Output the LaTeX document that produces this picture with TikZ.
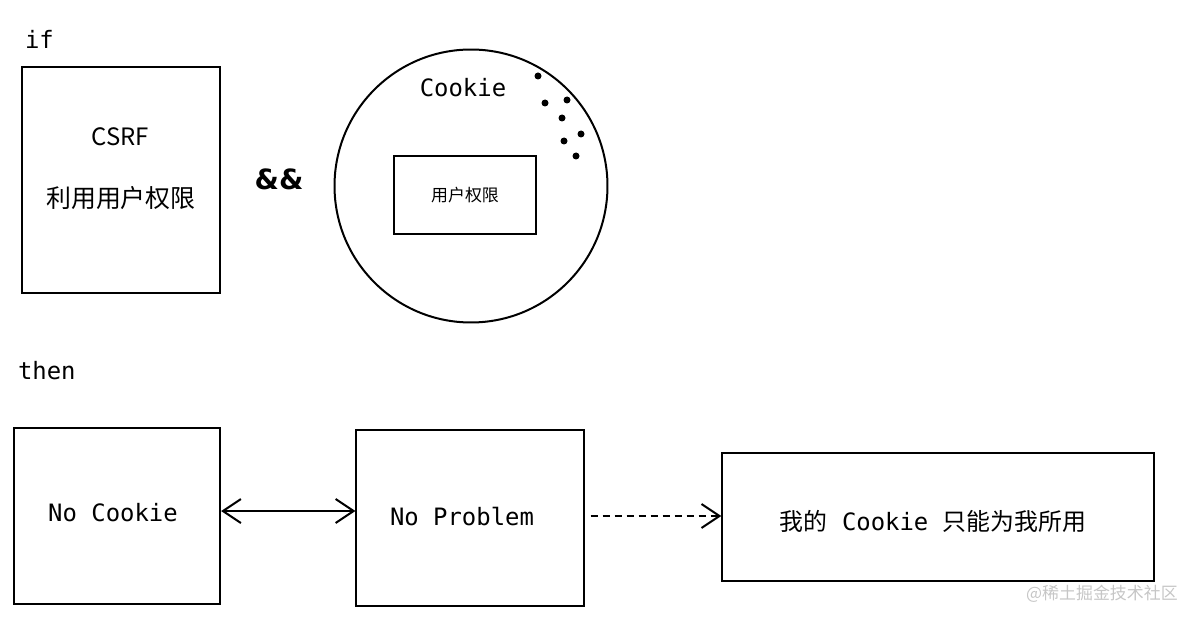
\documentclass[tikz,border=0pt]{standalone}
\usepackage{fontspec}
\setmonofont{DejaVu Sans Mono}
\setsansfont{DejaVu Sans}
\newfontfamily\cjk{Noto Sans CJK SC}
\usetikzlibrary{positioning,arrows.meta}

\begin{document}
\begin{tikzpicture}[x=1bp,y=-1bp,line width=2bp,
    box/.style={draw,inner sep=0pt},
    mono/.style={font=\fontsize{24}{28}\selectfont\ttfamily},
    zh/.style={font=\fontsize{#1}{#1}\selectfont\cjk},
    >={Straight Barb[length=18bp,width=24bp]}]
  \useasboundingbox (0,0) rectangle (1197,622);
  % if
  \node [mono,anchor=base west,inner sep=0pt] (if) at (24,49) {if};
  \node [box,minimum width=198,minimum height=226] (csrf) at (121,180) {};
  \node [zh=24] (csrftitle) at (120,137) {CSRF};
  \node [zh=25] (csrftext) at (121,198) {利用用户权限};
  \node [font=\fontsize{28}{28}\selectfont\bfseries\sffamily] (and) at (279,179) {\&\&};
  \node [draw,circle,minimum size=274,inner sep=0pt] (cookie) at (471,186) {};
  \node [mono] (cookietitle) at (463,88) {Cookie};
  \foreach \x/\y in {538/76,545/103,567/100,562/118,581/134,564/141,576/156}
    \fill (\x,\y) circle (3.5);
  \node [box,minimum width=143,minimum height=78,zh=17] (perm) at (465,195) {用户权限};
  % then
  \node [mono,anchor=base west,inner sep=0pt] (then) at (17,379) {then};
  \node [box,minimum width=207,minimum height=177] (nocookie) at (117,516) {};
  \node [mono] (nocookietext) at (113,513) {No Cookie};
  \node [box,minimum width=228,minimum height=177] (noproblem) at (470,518) {};
  \node [mono] (noproblemtext) at (462,517) {No Problem};
  \node [box,minimum width=433,minimum height=128,zh=24] (mine) at (938,517) {};
  \node [zh=24] (minetext) at (933,521) {我的{\ttfamily\ Cookie\ }只能为我所用};
  \draw [<->] ([yshift=5pt]nocookie.east) -- ([yshift=5pt]nocookie.east -| noproblem.west);
  \draw [->,dash pattern=on 7bp off 5bp] ([xshift=6pt,yshift=2pt]noproblem.east) -- ([yshift=2pt]noproblem.east -| mine.west);
  \node [zh=17,text=gray!45,anchor=east] (mark) at (1182,594) {@稀土掘金技术社区};
\end{tikzpicture}
\end{document}
